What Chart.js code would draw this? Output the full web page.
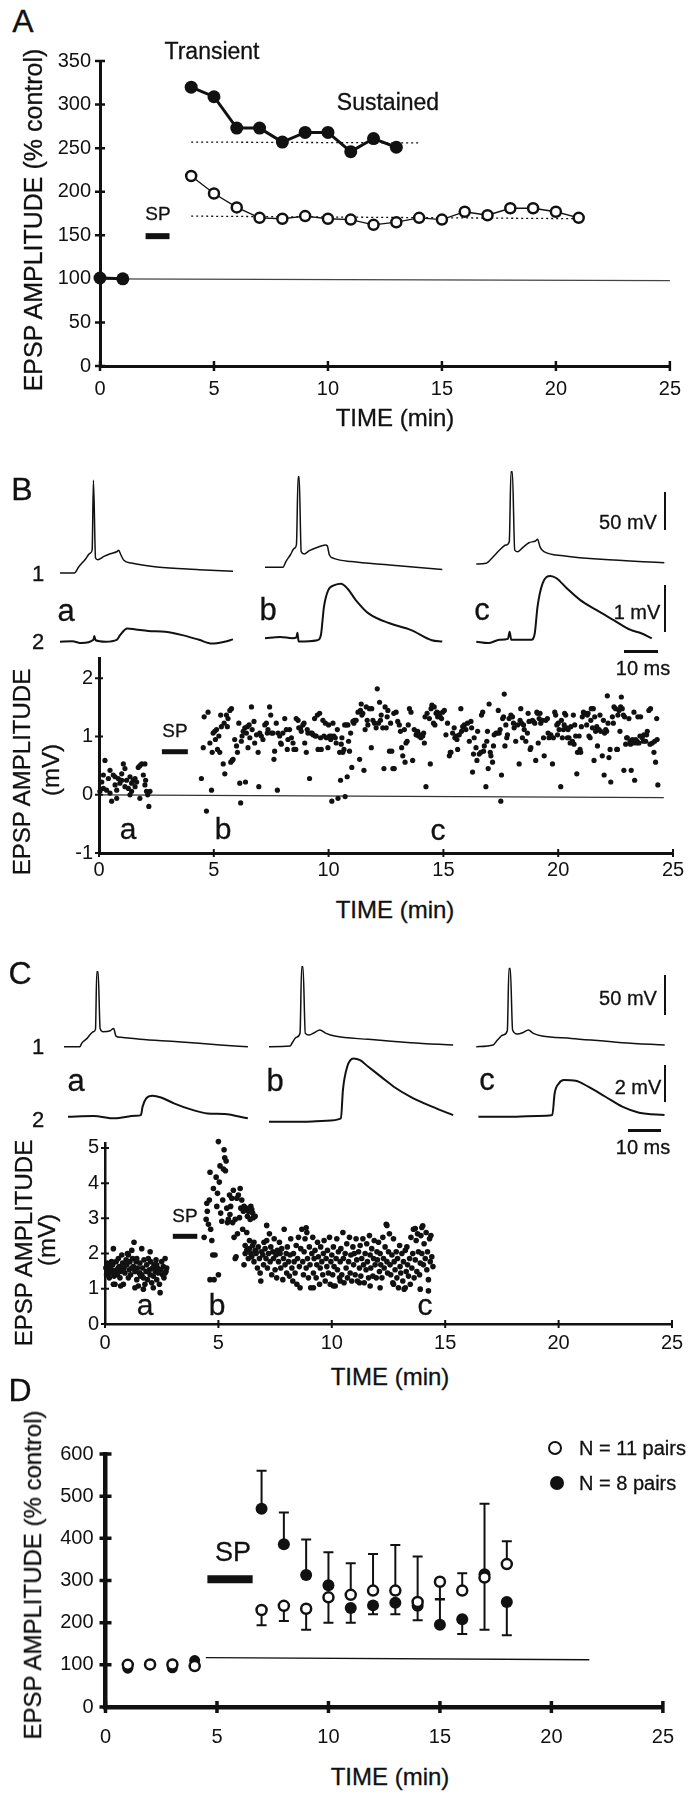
<!DOCTYPE html>
<html>
<head>
<meta charset="utf-8">
<script src="https://cdn.jsdelivr.net/npm/chart.js"></script>
<style>
body { margin: 0; background: #fff; }
#page { position: relative; width: 692px; height: 1800px; overflow: hidden; font-family: "Liberation Sans", Arial, sans-serif; color: #111; }
canvas { position: absolute; }
.t { position: absolute; transform: translate(-50%, -50%); white-space: nowrap; line-height: 1; -webkit-text-stroke: 0.3px #111; }
.v { transform: translate(-50%, -50%) rotate(-90deg); }
.bar { position: absolute; background: #111; }
.dot { position: absolute; border-radius: 50%; box-sizing: border-box; transform: translate(-50%, -50%); }
</style>
</head>
<body>
<div id="page"></div>
<script>
// ---- panel A : % of control, per minute ----
const aPreTime = [0, 1];
const aPreValue = [101, 100];
const transientTime = [4, 5, 6, 7, 8, 9, 10, 11, 12, 13];
const transientValue = [320, 309, 273, 273, 257, 268, 268, 246, 261, 251];
const sustainedTime = [4, 5, 6, 7, 8, 9, 10, 11, 12, 13, 14, 15, 16, 17, 18, 19, 20, 21];
const sustainedValue = [218, 198, 182, 170, 169, 172, 169, 168, 162, 165, 170, 168, 177, 173, 181, 181, 177, 170];
const transientLevel = [[4, 257], [14, 256]];
const sustainedLevel = [[4, 172], [21.3, 169]];
const aBaseline = [[0, 100], [25, 98]];
const aSp = [[2.0, 149], [3.05, 149]];

// ---- panel B : single EPSP amplitudes (min, mV) ----
const bDots = [
[0.26,0.59],[0.12,0.22],[0.19,0.11],[0.33,0.08],[0.48,0.42],[0.41,0.28],[0.62,0.34],[0.55,-0.11],[0.70,0.17],[0.77,0.08],
[0.84,0.28],[0.91,0.20],[0.99,0.36],[1.06,0.53],[1.13,0.45],[1.20,0.25],[1.28,0.11],[1.35,0.0],[1.42,0.20],[1.49,0.25],
[1.57,0.28],[1.64,0.22],[1.71,0.47],[1.78,0.50],[1.86,0.53],[1.93,0.34],[2.0,0.17],[2.03,0.25],[2.07,0.06],[2.12,0.0],
[2.17,-0.2],[2.22,0.06],[1.35,0.31],[0.70,0.31],[1.13,0.14],[0.77,-0.06],[1.78,-0.06],[2.0,0.53],[0.48,0.03],[1.42,0.06],
[1.57,0.14],[0.99,0.25],[0.19,0.34],[0.04,0.06],
[4.46,0.28],[4.54,0.81],[4.58,1.34],[4.68,-0.28],[4.75,1.42],[4.83,0.89],[4.90,0.08],[4.93,0.73],[4.97,1.06],[5.04,1.09],
[5.07,0.95],[5.12,1.12],[5.16,0.78],[5.22,1.01],[5.26,0.73],[5.30,1.37],[5.33,1.17],[5.41,0.53],[5.45,1.23],[5.48,0.36],
[5.55,1.37],[5.59,1.17],[5.62,1.31],[5.70,1.45],[5.74,0.56],[5.77,1.48],[5.80,0.59],[5.84,0.61],[5.91,0.95],[5.99,0.84],
[6.03,0.73],[6.09,1.23],[6.13,0.20],[6.17,-0.14],[6.20,0.92],[6.23,1.01],[6.28,1.09],[6.35,1.15],[6.38,0.22],[6.42,1.06],
[6.46,1.17],[6.49,0.81],[6.54,1.20],[6.57,0.98],[6.64,1.51],[6.67,1.12],[6.75,1.26],[6.78,0.89],[6.86,1.03],[6.93,0.73],
[6.96,0.14],[7.0,1.06],[7.07,1.01],[7.14,0.95],[7.22,1.20],[7.29,1.23],[7.33,1.06],[7.36,1.12],[7.43,1.51],[7.48,1.37],
[7.51,1.06],[7.58,1.06],[7.62,0.61],[7.65,0.75],[7.72,1.23],[7.77,0.08],[7.80,1.06],[7.87,1.01],[7.91,0.89],[7.94,0.87],
[8.01,1.06],[8.09,1.31],[8.16,1.12],[8.20,0.78],[8.23,0.95],[8.30,1.12],[8.38,0.98],[8.45,0.89],[8.49,0.78],[8.57,0.78],
[8.59,1.31],[8.67,1.28],[8.70,1.15],[8.78,1.15],[8.81,1.09],[8.88,1.20],[8.93,1.23],[8.96,0.89],[9.03,0.73],[9.07,1.12],
[9.10,1.06],[9.17,0.28],[9.22,1.06],[9.28,1.06],[9.32,1.03],[9.39,1.31],[9.42,1.01],[9.46,1.01],[9.51,1.37],[9.54,0.78],
[9.61,1.40],[9.65,0.98],[9.68,0.78],[9.75,1.28],[9.80,1.01],[9.86,1.23],[9.90,0.98],[9.97,0.81],[10.0,1.20],[10.04,1.01],
[10.09,0.95],[10.12,1.01],[10.14,-0.11],[10.19,1.23],[10.23,1.01],[10.29,0.98],[10.33,0.89],[10.38,1.12],[10.41,-0.06],[10.48,0.73],
[10.52,0.25],[10.55,0.87],[10.58,0.98],[10.62,0.73],[10.67,0.78],[10.70,1.20],[10.72,-0.03],[10.77,1.20],[10.81,0.31],[10.84,1.20],
[10.87,0.92],[10.91,0.75],[10.96,1.06],[11.01,0.47],[11.06,1.26],[11.10,1.23],[11.13,1.28],[11.20,1.28],[11.28,1.42],[11.35,0.61],
[11.39,1.45],[11.42,1.56],[11.45,1.37],[11.49,1.40],[11.54,0.42],[11.59,1.12],[11.64,1.51],[11.68,1.28],[11.71,1.20],[11.78,1.48],
[11.86,0.81],[11.88,1.48],[11.93,1.28],[12.0,1.23],[12.07,1.15],[12.12,1.82],[12.17,1.23],[12.22,1.59],[12.26,1.28],[12.29,1.37],
[12.36,1.15],[12.41,0.45],[12.46,1.51],[12.51,1.15],[12.55,1.34],[12.58,1.45],[12.65,0.75],[12.70,1.23],[12.75,0.75],[12.80,0.45],
[12.84,1.40],[12.86,0.45],[12.94,1.42],[13.01,1.26],[13.08,1.20],[13.13,1.09],[13.18,0.81],[13.23,0.67],[13.30,1.12],[13.33,0.56],
[13.37,0.89],[13.42,0.92],[13.47,1.20],[13.52,1.48],[13.59,1.42],[13.66,0.59],[13.73,1.12],[13.81,1.03],[13.85,1.06],[13.88,1.09],
[13.92,1.01],[13.99,1.03],[14.02,0.98],[14.10,1.01],[14.14,1.06],[14.17,0.89],[14.20,1.34],[14.24,0.14],[14.29,1.40],[14.39,1.31],
[14.43,0.53],[14.46,1.48],[14.50,1.54],[14.57,1.23],[14.60,1.51],[14.63,1.20],[14.68,1.40],[14.72,1.42],[14.75,1.34],[14.82,1.40],
[14.86,1.34],[14.92,1.31],[14.97,1.42],[15.04,1.45],[15.11,1.03],[15.18,1.23],[15.26,0.67],[15.30,0.73],[15.33,0.73],[15.40,1.06],
[15.47,1.15],[15.50,0.98],[15.55,1.01],[15.59,0.95],[15.62,0.78],[15.69,1.03],[15.76,1.48],[15.79,1.09],[15.84,1.17],[15.88,1.17],
[15.91,1.20],[15.98,1.12],[16.05,1.23],[16.13,0.92],[16.20,1.26],[16.23,1.15],[16.27,0.39],[16.31,0.70],[16.34,0.98],[16.42,0.81],
[16.46,0.59],[16.49,1.09],[16.56,0.70],[16.63,0.73],[16.66,1.37],[16.71,1.42],[16.75,0.75],[16.78,0.84],[16.85,0.14],[16.89,0.92],
[16.92,1.09],[16.95,0.45],[16.99,1.56],[17.04,0.73],[17.07,0.67],[17.14,0.56],[17.18,0.84],[17.21,1.03],[17.29,1.06],[17.36,1.06],
[17.39,1.45],[17.43,1.06],[17.47,1.12],[17.50,-0.11],[17.53,0.34],[17.58,1.31],[17.62,1.34],[17.65,1.73],[17.68,0.84],[17.72,1.20],
[17.76,0.98],[17.79,1.03],[17.86,1.31],[17.94,1.37],[18.01,1.34],[18.05,1.23],[18.08,1.15],[18.15,0.92],[18.23,1.20],[18.30,0.53],
[18.34,1.28],[18.37,1.48],[18.40,1.23],[18.44,0.98],[18.49,1.20],[18.52,1.12],[18.59,0.92],[18.66,1.06],[18.69,1.40],[18.73,1.26],
[18.78,0.78],[18.81,0.81],[18.88,1.28],[18.92,1.26],[18.98,1.23],[19.02,0.59],[19.07,1.42],[19.10,1.40],[19.13,0.89],[19.17,1.31],
[19.21,1.40],[19.24,1.23],[19.31,1.28],[19.36,0.98],[19.39,0.67],[19.46,1.28],[19.53,1.31],[19.56,1.06],[19.60,0.98],[19.68,1.03],
[19.75,0.53],[19.79,0.98],[19.85,1.42],[19.89,1.37],[19.94,1.20],[19.97,1.03],[20.0,1.23],[20.04,1.12],[20.11,0.14],[20.14,1.28],
[20.18,0.98],[20.23,1.12],[20.26,1.20],[20.28,1.40],[20.33,1.37],[20.37,1.15],[20.40,0.98],[20.43,1.12],[20.47,0.98],[20.52,0.89],
[20.55,1.17],[20.62,0.92],[20.66,1.37],[20.69,0.87],[20.72,1.20],[20.76,1.01],[20.81,0.36],[20.84,0.73],[20.91,1.01],[20.95,0.78],
[20.98,0.73],[21.01,1.17],[21.05,1.34],[21.10,1.42],[21.13,1.40],[21.20,1.40],[21.24,1.20],[21.27,1.37],[21.30,1.40],[21.34,1.01],
[21.39,0.98],[21.42,1.28],[21.44,1.48],[21.49,1.15],[21.53,1.48],[21.56,0.59],[21.59,1.34],[21.63,1.09],[21.68,1.17],[21.71,0.84],
[21.78,1.12],[21.82,1.37],[21.85,1.09],[21.92,0.67],[21.97,1.28],[22.0,0.34],[22.02,1.06],[22.07,1.12],[22.11,1.09],[22.14,1.70],
[22.17,1.23],[22.21,0.64],[22.26,0.78],[22.29,0.22],[22.36,1.34],[22.40,1.23],[22.43,1.51],[22.50,1.48],[22.55,0.78],[22.58,0.78],
[22.60,1.37],[22.65,1.45],[22.69,1.09],[22.72,1.51],[22.75,1.68],[22.79,1.48],[22.84,1.37],[22.86,0.42],[22.89,1.34],[22.94,0.87],
[22.98,0.98],[23.01,0.98],[23.08,1.31],[23.13,0.92],[23.15,0.87],[23.18,0.42],[23.23,0.95],[23.27,0.89],[23.30,1.42],[23.33,0.25],
[23.37,0.95],[23.42,0.89],[23.44,0.92],[23.47,1.34],[23.52,0.89],[23.56,1.01],[23.59,1.34],[23.66,0.98],[23.71,0.92],[23.73,1.03],
[23.81,0.92],[23.85,1.03],[23.88,1.09],[23.95,1.45],[24.0,0.87],[24.02,1.48],[24.10,0.89],[24.17,0.73],[24.20,0.92],[24.24,0.56],
[24.29,1.31],[24.31,0.95],[24.34,0.17]
];
const bBaseline = [[0, 0], [24.6, -0.05]];
const bSp = [[2.74, 0.74], [3.87, 0.74]];

// ---- panel C : single EPSP amplitudes (min, mV) ----
const cDots = [
[0.04,1.59],[0.07,1.40],[0.10,1.73],[0.15,1.49],[0.19,1.31],[0.22,1.63],[0.25,1.45],[0.29,1.54],[0.34,1.68],[0.37,2.14],
[0.40,1.36],[0.44,1.13],[0.49,1.77],[0.51,1.54],[0.54,1.40],[0.59,1.86],[0.63,1.63],[0.66,1.31],[0.69,1.49],[0.74,1.96],
[0.78,1.73],[0.81,1.13],[0.84,1.59],[0.88,1.45],[0.93,1.82],[0.96,1.68],[0.99,2.0],[1.03,1.31],[1.07,1.54],[1.10,1.77],
[1.13,1.40],[1.18,2.09],[1.22,1.86],[1.25,1.63],[1.28,2.32],[1.32,1.49],[1.37,1.77],[1.40,1.26],[1.43,1.59],[1.47,1.08],
[1.51,1.45],[1.54,1.73],[1.57,1.36],[1.62,2.14],[1.66,1.59],[1.69,1.31],[1.72,1.82],[1.76,1.13],[1.81,1.49],[1.84,1.68],
[1.87,1.26],[1.91,1.86],[1.96,1.54],[1.99,1.40],[2.01,1.77],[2.06,1.17],[2.10,1.59],[2.13,1.36],[2.16,1.68],[2.21,1.49],
[2.25,1.82],[2.28,1.26],[2.31,1.59],[2.35,1.45],[2.40,1.13],[2.43,0.89],[2.46,1.54],[2.50,1.77],[2.54,1.40],[2.57,1.63],
[2.60,1.31],[2.65,1.86],[2.69,1.49],[2.72,1.59],[1.69,0.99],[0.69,1.08],[0.37,1.13],[1.32,1.03],[2.13,1.03],[1.03,1.96],
[1.62,1.40],[0.59,1.59],[1.99,2.05],[0.07,1.63],[0.44,1.49],[0.81,1.54],[1.18,1.59],[1.54,1.45],[1.91,1.49],[2.28,1.68],
[2.65,1.45],[0.29,1.77],[1.40,1.86],
[4.37,2.46],[4.46,2.97],[4.49,3.43],[4.51,3.20],[4.56,2.83],[4.60,3.52],[4.63,4.31],[4.66,2.69],[4.71,2.37],[4.75,1.96],
[4.78,3.85],[4.81,1.26],[4.85,1.96],[4.90,4.17],[4.93,3.34],[4.96,3.71],[5.0,1.40],[5.0,5.18],[5.04,4.03],[5.07,4.49],
[5.10,3.15],[5.15,2.92],[5.19,3.52],[5.22,4.40],[5.25,4.95],[5.28,4.72],[5.31,4.35],[5.34,4.63],[5.37,3.29],[5.40,2.88],
[5.44,2.97],[5.49,3.66],[5.51,3.11],[5.54,3.34],[5.59,3.57],[5.63,2.88],[5.66,3.80],[5.69,2.46],[5.74,2.97],[5.78,1.91],
[5.81,3.57],[5.84,2.56],[5.88,3.66],[5.93,3.02],[5.96,3.85],[5.99,3.29],[6.03,3.52],[6.07,2.69],[6.10,3.20],[6.13,3.34],
[6.18,2.23],[6.22,3.29],[6.25,2.60],[6.28,3.06],[6.32,3.20],[6.37,2.37],[6.40,2.97],[6.43,3.34],[6.47,3.25],[6.51,3.15],
[6.54,3.02],[6.57,2.32],[6.62,3.06],[6.66,2.05],[4.63,1.26],[5.74,1.86],
[6.13,1.68],[6.18,2.0],[6.25,2.09],[6.32,1.86],[6.37,2.14],[6.43,2.0],[6.47,1.91],[6.51,2.23],[6.57,1.77],[6.62,2.09],
[6.66,2.0],[6.72,1.59],[6.76,2.19],[6.81,1.86],[6.84,1.45],[6.87,1.22],[6.91,2.05],[6.96,1.96],[6.99,1.68],[7.01,2.32],
[7.06,2.14],[7.10,1.86],[7.13,2.37],[7.16,1.59],[7.21,2.0],[7.25,2.56],[7.28,1.77],[7.31,2.19],[7.35,1.40],[7.40,2.05],
[7.43,1.86],[7.46,2.42],[7.50,1.54],[7.54,1.96],[7.57,1.31],[7.60,2.09],[7.65,1.77],[7.69,2.32],[7.72,2.0],[7.75,1.59],
[7.79,2.14],[7.84,1.26],[7.87,1.86],[7.90,2.69],[7.94,1.68],[7.99,2.0],[8.01,1.45],[8.04,2.19],[8.09,1.77],[8.13,1.36],
[8.16,1.96],[8.19,2.42],[8.24,1.59],[8.28,1.22],[8.31,2.0],[8.34,1.77],[8.38,1.45],[8.43,2.23],[8.46,1.13],[8.49,1.86],
[8.53,2.46],[8.57,1.63],[8.60,1.03],[8.63,2.14],[8.68,2.69],[8.72,1.77],[8.75,1.40],[8.78,2.05],[8.82,2.42],[8.87,1.59],
[8.90,2.60],[8.93,1.86],[8.97,1.31],[9.01,2.19],[9.04,1.68],[9.07,1.03],[9.12,2.0],[9.16,2.46],[9.19,1.45],[9.22,1.86],
[9.26,2.09],[9.31,1.31],[9.34,1.68],[9.37,2.32],[9.41,1.91],[9.46,1.13],[9.49,1.59],[9.51,2.19],[9.56,1.77],[9.60,1.40],
[9.63,2.0],[9.66,2.37],[9.71,1.22],[9.75,1.86],[9.78,1.63],[9.81,2.09],[9.85,1.45],[9.90,2.46],[9.93,1.13],[9.96,1.77],
[10.0,1.96],[10.04,1.40],[10.07,2.19],[10.10,1.63],[10.15,1.08],[10.19,1.86],[10.22,2.42],[10.25,1.54],[10.29,2.05],[10.34,1.31],
[10.37,1.77],[10.40,2.14],[10.44,1.40],[10.49,2.60],[10.51,1.86],[10.54,1.17],[10.59,2.0],[10.63,1.59],[10.66,2.28],[10.69,1.31],
[10.74,1.77],[10.78,2.46],[10.81,1.45],[10.84,1.96],[10.88,1.22],[10.93,2.19],[10.96,1.68],[10.99,2.0],[11.03,1.40],[11.07,2.42],
[11.10,1.82],[11.13,1.22],[11.18,2.05],[11.22,1.59],[11.25,2.23],[11.28,1.36],[11.32,1.86],[11.37,2.42],[11.40,1.68],[11.43,1.17],
[11.47,2.0],[11.51,1.54],[11.54,2.28],[11.57,1.77],[11.62,1.31],[11.66,2.51],[11.69,1.96],[11.72,1.59],[11.76,2.14],[11.81,1.36],
[11.84,1.86],[11.87,2.37],[11.91,1.68],[11.96,1.31],[11.99,2.05],[12.01,1.82],[12.06,2.32],[12.10,1.49],[12.13,2.0],[12.16,1.68],
[12.21,1.31],[12.25,2.46],[12.28,1.86],[12.31,1.59],[12.35,2.19],[12.40,2.83],[12.43,1.77],[12.46,1.45],[12.50,2.05],[12.54,2.56],
[12.57,1.68],[12.60,1.40],[12.65,1.96],[12.69,1.17],[12.72,2.42],[12.75,1.77],[12.79,1.54],[12.84,2.05],[12.87,1.31],[12.90,1.86],
[12.94,1.03],[12.99,2.23],[13.01,1.63],[13.04,1.45],[13.09,2.0],[13.13,1.22],[13.16,1.77],[13.19,0.99],[13.24,2.09],[13.28,1.49],
[13.31,2.19],[13.34,1.68],[13.38,1.36],[13.43,1.86],[13.46,1.13],[13.49,2.46],[13.53,1.59],[13.57,2.0],[13.60,2.69],[13.63,1.31],
[13.68,1.82],[13.72,2.37],[13.75,1.49],[13.78,2.56],[13.82,2.05],[13.87,1.40],[13.90,1.73],[13.93,2.51],[13.97,2.0],[14.01,2.79],
[14.04,1.68],[14.07,2.28],[14.12,1.86],[14.16,2.60],[14.19,1.54],[14.22,2.05],[14.26,1.26],[14.31,2.42],[14.34,1.77],[14.37,2.51],
[14.41,1.91],[14.46,1.63],[14.26,0.94],[13.90,0.99],[13.24,1.03],[12.72,1.13],[12.13,1.03],[10.37,1.22],[9.19,1.03],[10.07,1.08],
[11.22,1.17],[11.69,1.08],[7.13,2.80],[8.87,2.73],[12.43,2.80],[13.68,2.71],[13.97,2.74]
];
const cSp = [[2.99, 2.49], [4.07, 2.49]];

// ---- panel D : mean % of control with one-sided SEM ----
const dPreTime = [1, 2, 3, 4];
const dPreOpen = [100, 101, 101, 97];
const dPreFilled = [92, 100, 93, 110];
const dTime = [7, 8, 9, 10, 11, 12, 13, 14, 15, 16, 17, 18];
const dFilled = [470, 386, 313, 289, 235, 241, 247, 240, 195, 208, 315, 249];
const dFilledErr = [560, 461, 397, 367, 200, 220, 220, 206, 256, 173, 183, 170];
const dOpen = [230, 240, 233, 260, 266, 276, 276, 249, 297, 276, 307, 339];
const dOpenErr = [194, 204, 183, 200, 341, 363, 384, 357, 255, 317, 482, 393];
const dBaseline = [[4.5, 117], [21.7, 112]];
const dSp = [[4.57, 303], [6.6, 303]];

// ---- example traces (ms, mV) ----
const b1a = [[0,0],[4.35,0],[5.6,7.9],[7.46,17.5],[9.08,26.3],[9.58,30.7],[9.95,122],[10.57,19.7],[11.2,17.5],[13.06,21.9],[14.9,25.4],[16.8,28],[17.4,29.8],[18.0,24],[18.9,16.7],[21.1,13.2],[28.6,7.9],[41.0,4.4],[51.0,2.2]];
const b1b = [[0,0],[5.35,0],[6.2,7.5],[7.5,16.2],[8.7,25],[9.3,29.4],[9.8,119],[10.1,119],[10.7,20.6],[11.6,17.5],[13.1,21.9],[15.5,26.3],[17.8,29.4],[18.4,28],[19.0,16.2],[20.5,11.4],[25.5,7.5],[36.7,3.1],[52.2,-3]];
const b1c = [[0,0],[2.86,0.9],[4.98,9.6],[6.84,18.4],[8.7,25],[9.7,29.4],[10.2,121.5],[10.6,121.5],[11.3,18.4],[12.1,16.2],[13.7,21.9],[15.5,28],[17.4,30.3],[18.0,32.5],[18.8,21.9],[19.9,16.2],[25.5,11],[36.7,6.1],[55.3,1.8]];
const b2a = [[0,0],[3.7,0.01],[6.5,-0.03],[9.95,0.04],[10.2,0.12],[10.6,0.03],[13.5,0.0],[16.8,0.04],[17.8,0.14],[19.9,0.28],[22.4,0.26],[26.1,0.23],[31.1,0.21],[36.1,0.14],[41.0,0.04],[44.8,-0.04],[48.5,0],[51.0,0.05]];
const b2b = [[0,0],[4.5,0.03],[8.1,0],[9.3,0.02],[9.6,0.12],[9.95,-0.07],[15.5,-0.04],[16.5,0.07],[17.4,0.67],[18.7,1.03],[20.5,1.13],[22.4,1.16],[24.3,1.06],[26.7,0.82],[30.5,0.53],[36.7,0.32],[42.9,0.18],[49.1,-0.04],[52.2,-0.07]];
const b2c = [[0,0],[3.5,-0.03],[6.84,0.04],[9.3,0.06],[9.8,0.21],[10.3,0.04],[16.2,0.04],[17.2,0.18],[18.0,0.74],[19.5,1.24],[21.8,1.40],[23.6,1.35],[26.7,1.13],[30.5,0.89],[35.4,0.67],[40.4,0.46],[45.4,0.25],[48.5,0.18],[51.6,0.07]];
const c1a = [[0,0],[4.87,0],[5.4,4.2],[7.05,10.4],[8.97,18.8],[9.6,21.7],[10.0,93.8],[10.4,93.8],[11.0,22.9],[11.8,18.8],[14.1,20],[15.1,22.9],[15.8,13.3],[17.3,11.7],[23.1,9.2],[34.6,6.3],[47.4,2.1],[55.8,0]];
const c1b = [[0,0],[6.4,0.8],[7.05,5],[8.3,11.7],[9.4,16.7],[9.9,100],[10.3,100],[11.0,16.7],[12.2,14.6],[13.7,17.5],[15.4,20.8],[17.3,16.7],[19.9,13.3],[30.1,9.2],[42.9,5],[55.8,2.1]];
const c1c = [[0,0],[5.1,2.1],[6.4,8.3],[8.1,14.6],[9.4,20],[9.9,97.9],[10.3,97.9],[11.0,20.8],[12.4,15.8],[14.1,17.5],[15.8,20.8],[17.3,16.7],[19.9,13.3],[28.8,10.4],[44.2,5],[57.1,2.1]];
const c2a = [[0,0],[7.7,0.04],[14.1,-0.09],[20.5,0.05],[22.1,0.09],[22.6,0.55],[23.7,1.0],[25.6,1.15],[28.2,1.05],[32.1,0.73],[37.2,0.4],[42.3,0.18],[47.4,0.15],[54.5,-0.09]];
const c2b = [[0,0],[10.9,0],[17.3,0.05],[21.8,0.18],[22.4,1.73],[23.7,3.0],[25.6,3.45],[27.6,3.36],[30.1,3.0],[34.0,2.45],[37.8,1.91],[42.9,1.36],[49.4,0.82],[55.8,0.36]];
const c2c = [[0,0],[11.5,0],[17.9,0.04],[22.4,0.09],[23.1,1.27],[24.4,1.82],[25.9,2.0],[29.5,1.96],[33.3,1.64],[38.5,1.09],[43.6,0.55],[48.7,0.22],[56.4,0.09]];

const INK = '#111';
Chart.defaults.font.family = '"Liberation Sans", Arial, sans-serif';
Chart.defaults.color = INK;

const page = document.getElementById('page');

function addCanvas(l, t, w, h) {
    const c = document.createElement('canvas');
    c.width = w; c.height = h;
    c.style.left = l + 'px'; c.style.top = t + 'px';
    c.style.width = w + 'px'; c.style.height = h + 'px';
    page.appendChild(c);
    return c;
}

function txt(s, x, y, size, cls) {
    const d = document.createElement('div');
    d.className = 't' + (cls ? ' ' + cls : '');
    d.textContent = s;
    d.style.left = x + 'px'; d.style.top = y + 'px';
    d.style.fontSize = size + 'px';
    if (cls === 'left') d.style.transform = 'translate(0,-50%)';
    page.appendChild(d);
}

function bar(l, t, w, h) {
    const d = document.createElement('div');
    d.className = 'bar';
    d.style.left = l + 'px'; d.style.top = t + 'px';
    d.style.width = w + 'px'; d.style.height = h + 'px';
    page.appendChild(d);
}

function pts(pairs) { return pairs.map(([x, y]) => ({x, y})); }
function zip(xs, ys) { return xs.map((x, i) => ({x, y: ys[i]})); }

function lineSet(pairs, width, extra) {
    return Object.assign({data: pts(pairs), showLine: true, pointRadius: 0, borderColor: INK,
        borderWidth: width, borderCapStyle: 'butt', clip: false, order: 5}, extra || {});
}

// tick marks that cross the axis line
const crossTicks = {
    id: 'crossTicks',
    afterDraw(chart, args, o) {
        const ctx = chart.ctx, a = chart.chartArea, xs = chart.scales.x, ys = chart.scales.y;
        ctx.save();
        ctx.strokeStyle = INK;
        ctx.lineWidth = o.width;
        ctx.beginPath();
        xs.ticks.forEach(t => {
            const p = xs.getPixelForValue(t.value);
            ctx.moveTo(p, a.bottom - o.len); ctx.lineTo(p, a.bottom + o.len);
        });
        ys.ticks.forEach(t => {
            const p = ys.getPixelForValue(t.value);
            ctx.moveTo(a.left - o.len, p); ctx.lineTo(a.left + o.len, p);
        });
        ctx.stroke();
        ctx.restore();
    }
};

const errorBars = {
    id: 'errorBars',
    beforeDatasetsDraw(chart) {
        const ctx = chart.ctx, xs = chart.scales.x, ys = chart.scales.y;
        ctx.save();
        ctx.strokeStyle = INK;
        ctx.lineWidth = 2;
        chart.data.datasets.forEach(ds => {
            if (!ds.errorEnds) return;
            ds.data.forEach((p, i) => {
                const px = xs.getPixelForValue(p.x);
                const p0 = ys.getPixelForValue(p.y), p1 = ys.getPixelForValue(ds.errorEnds[i]);
                ctx.beginPath();
                ctx.moveTo(px, p0); ctx.lineTo(px, p1);
                ctx.moveTo(px - 5, p1); ctx.lineTo(px + 5, p1);
                ctx.stroke();
            });
        });
        ctx.restore();
    }
};

function axisChart(box, plot, ax, datasets, extra) {
    const cv = addCanvas(box.l, box.t, box.w, box.h);
    return new Chart(cv, {
        type: 'scatter',
        data: { datasets: datasets },
        options: {
            responsive: false, animation: false, events: [],
            layout: { padding: { left: 0, top: plot.t - box.t, right: box.l + box.w - plot.r, bottom: 0 } },
            plugins: { legend: { display: false }, tooltip: { enabled: false },
                crossTicks: { len: ax.tickLen, width: ax.tickWidth } },
            scales: {
                x: {
                    type: 'linear', min: ax.xMin, max: ax.xMax,
                    afterBuildTicks: s => { s.ticks = ax.xTicks.map(v => ({value: v})); },
                    afterFit: s => { s.height = box.t + box.h - plot.b; },
                    grid: { display: false, drawTicks: false },
                    border: { display: true, color: INK, width: ax.axisWidth },
                    ticks: { padding: ax.xPad, maxRotation: 0, autoSkip: false, color: INK, font: { size: 20 } }
                },
                y: {
                    type: 'linear', min: ax.yMin, max: ax.yMax,
                    afterBuildTicks: s => { s.ticks = ax.yTicks.map(v => ({value: v})); },
                    afterFit: s => { s.width = plot.l - box.l; },
                    grid: { display: false, drawTicks: false },
                    border: { display: true, color: INK, width: ax.axisWidth },
                    ticks: { padding: ax.yPad, autoSkip: false, color: INK, font: { size: 20 } }
                }
            }
        },
        plugins: [crossTicks].concat(extra || [])
    });
}

function traceChart(data, left, base, pxMs, pxMv, width) {
    const ys = data.map(p => p[1]);
    const top = Math.round(base - (Math.max(...ys) * pxMv) - 3);
    const yMax = (base - top) / pxMv;
    const h = Math.ceil((yMax - Math.min(...ys)) * pxMv + 6);
    const w = Math.ceil(data[data.length - 1][0] * pxMs) + 2;
    const l = Math.round(left);
    const cv = addCanvas(l, top, w, h);
    new Chart(cv, {
        type: 'scatter',
        data: { datasets: [{ data: pts(data), showLine: true, pointRadius: 0, borderColor: INK,
            borderWidth: width, cubicInterpolationMode: 'monotone', clip: false }] },
        options: {
            responsive: false, animation: false, events: [],
            layout: { padding: 0 },
            plugins: { legend: { display: false }, tooltip: { enabled: false } },
            scales: {
                x: { type: 'linear', display: false, min: (l - left) / pxMs, max: (l - left + w) / pxMs },
                y: { type: 'linear', display: false, min: yMax - h / pxMv, max: yMax }
            }
        }
    });
}

// ================= Panel A =================
axisChart({l: 0, t: 40, w: 692, h: 375}, {l: 100, r: 680, t: 53, b: 366},
    {xMin: 0, xMax: 25, yMin: 0, yMax: 350, xTicks: [0, 5, 10, 15, 20, 25], yTicks: [0, 50, 100, 150, 200, 250, 300, 350],
     axisWidth: 3, tickLen: 5, tickWidth: 2.5, xPad: 11, yPad: 9},
    [
        lineSet(aBaseline, 1.3, {borderColor: '#444'}),
        lineSet(transientLevel, 1.3, {borderDash: [2, 3]}),
        lineSet(sustainedLevel, 1.3, {borderDash: [2, 3]}),
        lineSet(aSp, 6),
        {data: zip(aPreTime, aPreValue), showLine: true, borderColor: INK, borderWidth: 3, pointRadius: 6.5,
         pointBackgroundColor: INK, pointBorderWidth: 0, clip: false, order: 1},
        {data: zip(transientTime, transientValue), showLine: true, borderColor: INK, borderWidth: 3, pointRadius: 6.5,
         pointBackgroundColor: INK, pointBorderWidth: 0, clip: false, order: 1},
        {data: zip(sustainedTime, sustainedValue), showLine: true, borderColor: INK, borderWidth: 1.3, pointRadius: 5,
         pointBackgroundColor: '#fff', pointBorderColor: INK, pointBorderWidth: 2.5, clip: false, order: 2}
    ]);
txt('A', 23, 21, 32);
txt('Transient', 212, 51, 23);
txt('Sustained', 388, 102, 23);
txt('SP', 158, 213, 19);
txt('EPSP AMPLITUDE (% control)', 33, 220, 25, 'v');
txt('TIME (min)', 395, 418, 24);

// ================= Panel B =================
txt('B', 22, 489, 32);
traceChart(b1a, 59.6, 573, 3.4, 0.76, 1.5);
traceChart(b1b, 264.8, 567.3, 3.4, 0.76, 1.5);
traceChart(b1c, 476.3, 564, 3.4, 0.76, 1.5);
traceChart(b2a, 59.6, 641.7, 3.4, 47, 2);
traceChart(b2b, 264.8, 638.3, 3.4, 47, 2);
traceChart(b2c, 476.3, 641.7, 3.4, 47, 2);
txt('1', 38, 574, 22);
txt('2', 38, 642, 22);
txt('a', 66, 610, 31);
txt('b', 268, 609, 31);
txt('c', 482, 609, 31);
bar(663.5, 492, 2, 38);
bar(663.5, 585, 2, 47);
bar(624, 650, 34, 2.5);
txt('50 mV', 628, 522, 20);
txt('1 mV', 637, 612, 20);
txt('10 ms', 643, 668, 20);

axisChart({l: 0, t: 640, w: 692, h: 245}, {l: 99, r: 673, t: 653, b: 853},
    {xMin: 0, xMax: 25, yMin: -1, yMax: 2.35, xTicks: [0, 5, 10, 15, 20, 25], yTicks: [-1, 0, 1, 2],
     axisWidth: 3, tickLen: 4, tickWidth: 2, xPad: 5, yPad: 6},
    [
        lineSet(bBaseline, 1.3, {borderColor: '#333'}),
        lineSet(bSp, 5),
        {data: pts(bDots), pointRadius: 2.6, pointBackgroundColor: INK, pointBorderWidth: 0, clip: false, order: 1}
    ]);
txt('a', 128, 829, 30);
txt('b', 223, 829, 30);
txt('c', 438, 830, 30);
txt('SP', 175, 730, 19);
txt('EPSP AMPLITUDE', 22, 772, 24, 'v');
txt('(mV)', 51, 770, 24, 'v');
txt('TIME (min)', 395, 910, 24);

// ================= Panel C =================
txt('C', 20, 973, 32);
traceChart(c1a, 63.8, 1046.7, 3.3, 0.8, 1.5);
traceChart(c1b, 269, 1046.7, 3.3, 0.8, 1.5);
traceChart(c1c, 476.3, 1046.7, 3.3, 0.8, 1.5);
traceChart(c2a, 68, 1116.7, 3.3, 18.3, 2);
traceChart(c2b, 269, 1121.7, 3.3, 18.3, 2);
traceChart(c2c, 478.4, 1116.7, 3.3, 18.3, 2);
txt('1', 38, 1047, 22);
txt('2', 38, 1120, 22);
txt('a', 76, 1080, 31);
txt('b', 275, 1080, 31);
txt('c', 487, 1079, 31);
bar(663.5, 975, 2, 40);
bar(663.5, 1065, 2, 37);
bar(628, 1129, 33, 2.5);
txt('50 mV', 628, 998, 20);
txt('2 mV', 638, 1087, 20);
txt('10 ms', 643, 1147, 20);

axisChart({l: 0, t: 1125, w: 692, h: 235}, {l: 105, r: 672, t: 1138, b: 1324},
    {xMin: 0, xMax: 25, yMin: 0, yMax: 5.14, xTicks: [0, 5, 10, 15, 20, 25], yTicks: [0, 1, 2, 3, 4, 5],
     axisWidth: 2.5, tickLen: 4, tickWidth: 2, xPad: 7, yPad: 6},
    [
        lineSet(cSp, 5),
        {data: pts(cDots), pointRadius: 2.8, pointBackgroundColor: INK, pointBorderWidth: 0, clip: false, order: 1}
    ]);
txt('a', 145, 1305, 30);
txt('b', 217, 1305, 30);
txt('c', 425, 1305, 30);
txt('SP', 185, 1215, 19);
txt('EPSP AMPLITUDE', 24, 1243, 24, 'v');
txt('(mV)', 47, 1240, 24, 'v');
txt('TIME (min)', 390, 1377, 24);

// ================= Panel D =================
axisChart({l: 0, t: 1430, w: 692, h: 330}, {l: 105.5, r: 668, t: 1446, b: 1707},
    {xMin: 0, xMax: 25, yMin: 0, yMax: 600, xTicks: [0, 5, 10, 15, 20, 25], yTicks: [0, 100, 200, 300, 400, 500, 600],
     axisWidth: 4.5, tickLen: 6, tickWidth: 3.5, xPad: 18, yPad: 12},
    [
        lineSet(dBaseline, 1.3),
        lineSet(dSp, 8),
        {data: zip(dPreTime, dPreFilled), pointRadius: 5.5, pointBackgroundColor: INK, pointBorderWidth: 0, clip: false, order: 3},
        {data: zip(dPreTime, dPreOpen), pointRadius: 5, pointBackgroundColor: '#fff', pointBorderColor: INK, pointBorderWidth: 2.5, clip: false, order: 1},
        {data: zip(dTime, dFilled), errorEnds: dFilledErr, pointRadius: 6, pointBackgroundColor: INK, pointBorderWidth: 0, clip: false, order: 3},
        {data: zip(dTime, dOpen), errorEnds: dOpenErr, pointRadius: 5, pointBackgroundColor: '#fff', pointBorderColor: INK, pointBorderWidth: 2.5, clip: false, order: 2}
    ], [errorBars]);
txt('D', 20, 1390, 32);
txt('SP', 233, 1552, 27);
txt('EPSP AMPLITUDE (% control)', 33, 1575, 24, 'v');
txt('TIME (min)', 390, 1777, 24);

// legend
function legendDot(x, y, filled) {
    const d = document.createElement('div');
    d.className = 'dot';
    d.style.left = x + 'px'; d.style.top = y + 'px';
    d.style.width = '14px'; d.style.height = '14px';
    d.style.background = filled ? INK : '#fff';
    d.style.border = filled ? 'none' : '2px solid ' + INK;
    page.appendChild(d);
}
legendDot(555, 1448, false);
legendDot(557, 1483, true);
txt('N = 11 pairs', 579, 1448, 20, 'left');
txt('N = 8 pairs', 579, 1483, 20, 'left');
</script>
</body>
</html>
